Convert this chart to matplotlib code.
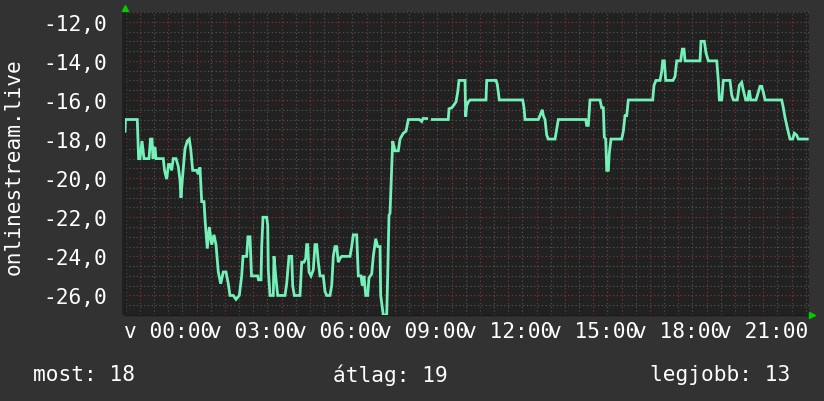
import numpy as np
import matplotlib
matplotlib.use("Agg")
import matplotlib.pyplot as plt
from matplotlib.ticker import FixedLocator

# ---- data ----
hours = [
    -1.528, -1.511, -1.094, -1.048, -0.999, -0.928, -0.858, -0.681, -0.628, -0.575,
    -0.540, -0.469, -0.434, -0.176, -0.134, -0.056, 0.007, 0.060, 0.120, 0.176,
    0.272, 0.353, 0.413, 0.448, 0.494, 0.589, 0.671, 0.741, 0.791, 0.861,
    0.918, 1.002, 1.059, 1.119, 1.179, 1.260, 1.306, 1.377, 1.447, 1.532,
    1.613, 1.684, 1.765, 1.850, 1.941, 2.037, 2.118, 2.178, 2.294, 2.390,
    2.506, 2.591, 2.637, 2.767, 2.813, 2.884, 2.937, 3.156, 3.184, 3.272,
    3.297, 3.343, 3.473, 3.509, 3.530, 3.590, 3.706, 3.731, 3.791, 3.862,
    4.119, 4.179, 4.260, 4.356, 4.391, 4.448, 4.649, 4.709, 4.790, 4.850,
    4.885, 4.921, 4.967, 5.037, 5.118, 5.178, 5.238, 5.295, 5.355, 5.471,
    5.531, 5.591, 5.708, 5.768, 5.824, 5.884, 5.944, 6.001, 6.061, 6.121,
    6.414, 6.474, 6.530, 6.650, 6.707, 6.802, 6.848, 6.908, 6.968, 7.038,
    7.084, 7.180, 7.236, 7.321, 7.391, 7.473, 7.497, 7.533, 7.589, 7.709,
    7.744, 7.790, 7.826, 7.921, 8.002, 8.119, 8.179, 8.295, 8.390, 8.472,
    8.860, 8.945, 8.990, 9.121, 9.142, 9.319, 9.883, 9.908, 10.003, 10.060,
    10.155, 10.215, 10.261, 10.473, 10.498, 10.533, 10.590, 10.649, 11.214, 11.239,
    11.567, 11.613, 11.684, 12.510, 12.556, 12.591, 13.060, 13.120, 13.201, 13.237,
    13.297, 13.357, 13.413, 13.650, 13.710, 13.766, 14.733, 14.769, 14.825, 14.885,
    15.238, 15.298, 15.355, 15.390, 15.440, 15.475, 15.531, 15.567, 15.627, 16.004,
    16.061, 16.121, 16.181, 16.237, 17.098, 17.144, 17.215, 17.356, 17.416, 17.451,
    17.508, 17.557, 17.815, 17.886, 17.946, 18.087, 18.143, 18.203, 18.239, 18.768,
    18.803, 18.920, 18.980, 19.061, 19.358, 19.414, 19.450, 19.534, 19.591, 19.827,
    19.887, 19.944, 20.085, 20.155, 20.240, 20.296, 20.381, 20.452, 20.508, 20.558,
    20.745, 20.886, 20.946, 21.003, 21.063, 21.652, 21.709, 21.769, 21.829, 21.885,
    21.945, 22.040, 22.097, 22.181, 22.238, 22.555,
]
values = [
    -17.6, -17.0, -17.0, -19.0, -19.0, -18.1, -19.0, -19.0, -18.0, -18.0,
    -19.0, -18.4, -19.0, -19.0, -19.6, -20.05, -19.3, -19.3, -19.6, -19.0,
    -19.0, -19.4, -20.1, -21.0, -20.1, -18.5, -18.1, -18.0, -18.5, -19.6,
    -19.6, -19.6, -19.8, -19.45, -21.2, -21.2, -22.3, -23.6, -22.5, -23.4,
    -22.9, -23.4, -24.8, -25.4, -24.8, -24.8, -25.4, -26.0, -26.0, -26.2,
    -26.0, -25.0, -24.0, -24.0, -23.0, -23.0, -25.0, -25.0, -25.2, -25.2,
    -23.5, -22.0, -22.0, -22.4, -24.7, -26.0, -26.0, -24.0, -25.0, -26.0,
    -26.0, -25.4, -24.0, -24.0, -25.5, -26.0, -26.0, -24.3, -24.3, -24.1,
    -23.4, -23.4, -24.8, -25.0, -24.7, -23.4, -23.4, -24.3, -25.0, -25.0,
    -25.8, -26.0, -26.0, -25.5, -24.0, -23.5, -23.5, -24.3, -24.1, -24.0,
    -24.0, -23.5, -22.9, -22.9, -25.0, -25.0, -25.5, -25.0, -26.0, -26.0,
    -25.1, -24.9, -24.0, -23.1, -23.5, -23.5, -26.0, -26.4, -27.0, -27.0,
    -25.0, -21.9, -21.8, -18.1, -18.6, -18.6, -18.0, -17.7, -17.6, -17.0,
    -17.0, -17.1, -16.95, -16.95, np.nan, -17.0, -17.0, -16.45, -16.4, -16.3,
    -16.1, -15.6, -15.0, -15.0, -16.85, -16.3, -16.1, -16.0, -16.0, -15.0,
    -15.0, -15.2, -16.0, -16.0, -16.4, -17.0, -17.0, -16.8, -16.5, -16.8,
    -17.0, -17.8, -18.0, -18.0, -17.5, -17.0, -17.0, -17.3, -17.3, -16.0,
    -16.0, -16.4, -16.4, -17.9, -18.0, -19.6, -19.6, -18.7, -18.0, -18.0,
    -17.6, -16.8, -16.8, -16.0, -16.0, -15.25, -15.0, -15.0, -14.55, -14.0,
    -14.0, -15.0, -15.0, -14.8, -14.0, -14.0, -13.4, -13.4, -14.0, -14.0,
    -13.0, -13.0, -13.6, -14.0, -14.0, -15.0, -16.0, -16.0, -15.0, -15.0,
    -15.75, -16.0, -16.0, -15.25, -15.1, -15.5, -16.0, -16.0, -15.5, -16.0,
    -16.0, -15.3, -15.3, -15.6, -16.0, -16.0, -16.4, -16.9, -17.3, -17.65,
    -18.0, -18.0, -17.7, -17.8, -18.0, -18.0,
]
x_ticks = [0, 3, 6, 9, 12, 15, 18, 21]
x_tick_labels = ["v 00:00", "v 03:00", "v 06:00", "v 09:00",
                 "v 12:00", "v 15:00", "v 18:00", "v 21:00"]
y_ticks = [-12, -14, -16, -18, -20, -22, -24, -26]
y_label = "onlinestream.live"
legend_items = [("most", 18), ("átlag", 19), ("legjobb", 13)]

# ---- style ----
W, H = 824, 402
FIG_BG = "#323232"
PLOT_BG = "#212121"
LINE_C = "#74f0b8"
MINOR_C = "#505050"
MAJOR_C = "#7a3434"
FONT = "DejaVu Sans Mono"
FS = 15.2

fig = plt.figure(figsize=(W / 100, H / 100), dpi=100, facecolor=FIG_BG)
L, R, T, B = 125, 809, 13, 316
# canvas area slightly larger than data area (rrdtool style)
bg_ax = fig.add_axes([122 / W, 1 - B / H, (R - 122) / W, (B - T) / H], zorder=0)
bg_ax.set_facecolor(PLOT_BG)
bg_ax.set_xticks([]); bg_ax.set_yticks([])
for s in bg_ax.spines.values():
    s.set_visible(False)

ax = fig.add_axes([L / W, 1 - B / H, (R - L) / W, (B - T) / H], zorder=1)
ax.set_facecolor("none")

xmin, xmax = -1.528, 22.615
ymin, ymax = -27.0, -11.5
ax.set_xlim(xmin, xmax)
ax.set_ylim(ymin, ymax)

# grid
dot = (0, (1, 2))
for xv in np.arange(-1.5, xmax, 0.5):
    major = abs(xv - round(xv)) < 1e-6
    ax.axvline(xv, color=MAJOR_C if major else MINOR_C, lw=0.9, ls=dot, zorder=1)
for yv in np.arange(-27.0, ymax + 0.01, 0.5):
    major = abs(yv / 2 - round(yv / 2)) < 1e-6
    ax.axhline(yv, color=MAJOR_C if major else MINOR_C, lw=0.9, ls=dot, zorder=1)

ax.plot(hours, values, color=LINE_C, lw=2.0, zorder=3, solid_joinstyle="miter")

for s in ["top", "right"]:
    ax.spines[s].set_visible(False)
for s in ["left", "bottom"]:
    ax.spines[s].set_color("#1a1a1a")
    ax.spines[s].set_linewidth(1)

ax.xaxis.set_major_locator(FixedLocator(x_ticks))
ax.set_xticklabels(x_tick_labels)
ax.yaxis.set_major_locator(FixedLocator(y_ticks))
ax.set_yticklabels([f"{v:.1f}".replace(".", ",") for v in y_ticks])
ax.tick_params(axis="both", length=0, colors="white", labelsize=FS)
ax.tick_params(axis="x", pad=4)
ax.tick_params(axis="y", pad=13)
for lab in ax.get_xticklabels() + ax.get_yticklabels():
    lab.set_fontfamily(FONT)

# arrows
ax.plot([xmin], [ymax + 0.2], marker="^", color="#00cc00", ms=5, clip_on=False, zorder=5)
ax.plot([xmax + 0.1], [ymin], marker=">", color="#00cc00", ms=5, clip_on=False, zorder=5)

fig.text(14 / W, 1 - 167 / H, y_label, rotation=90, color="white",
         fontsize=FS, family=FONT, ha="center", va="center")

leg_x = [33, 333, 650]
for (name, val), xp in zip(legend_items, leg_x):
    fig.text(xp / W, 1 - 375 / H, f"{name}: {val}", color="white",
             fontsize=FS, family=FONT, ha="left", va="center")

fig.savefig("out.png", dpi=100, facecolor=FIG_BG)
